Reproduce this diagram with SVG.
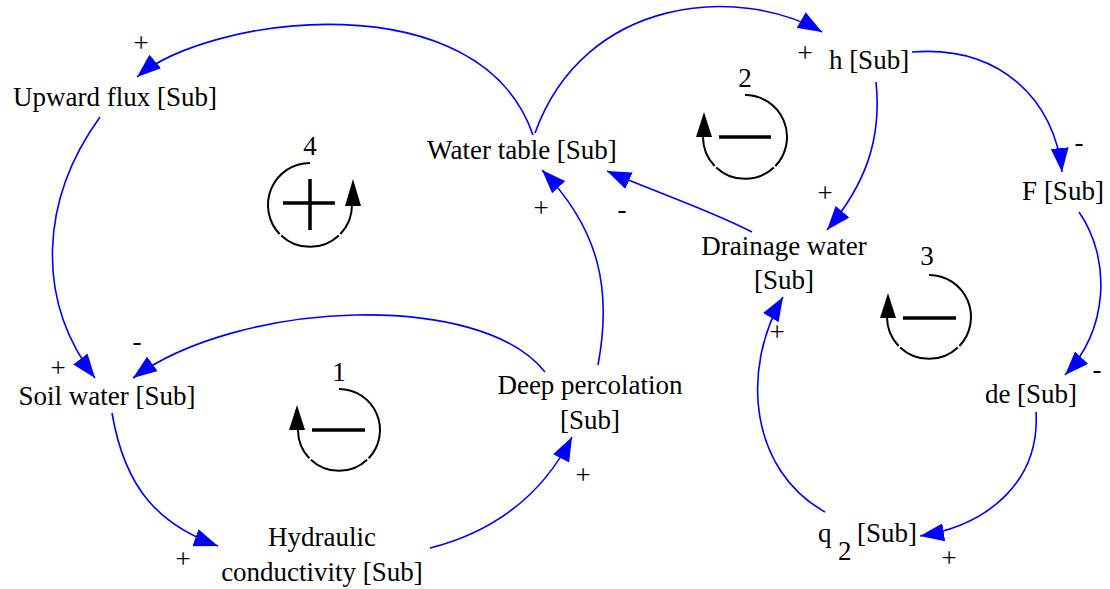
<svg xmlns="http://www.w3.org/2000/svg" width="1110" height="589" viewBox="0 0 1110 589">
<defs>
<marker id="ah" markerUnits="userSpaceOnUse" markerWidth="25" markerHeight="18" refX="24" refY="9" orient="auto">
<path d="M0,0 L24,9 L0,18 z" fill="#0000ff"/>
</marker>
</defs>
<style>
text{font-family:"Liberation Serif","Times New Roman",serif;font-size:27px;fill:#000}
.m{text-anchor:middle}
.c{fill:none;stroke:#0000ff;stroke-width:1.6;marker-end:url(#ah)}
.lp{fill:none;stroke:#000;stroke-width:2}
.sg{stroke:#000;stroke-width:3.5}
.la{fill:#000}
</style>
<rect width="1110" height="589" fill="#fff"/>
<g id="connectors">
<path class="c" d="M533,135 C480,-20 210,15 137,77"/>
<path class="c" d="M535,133 C585,-5 740,-15 822,32"/>
<path class="c" d="M100,117 C40,200 35,300 95,378"/>
<path class="c" d="M545,372 C480,290 240,300 133,378"/>
<path class="c" d="M112,413 C125,490 160,525 218,546"/>
<path class="c" d="M430,548 C500,530 545,490 572,437"/>
<path class="c" d="M598,365 C612,290 600,230 542,170"/>
<path class="c" d="M752,232 C710,210 650,190 607,171"/>
<path class="c" d="M876,82 C882,140 865,185 827,230"/>
<path class="c" d="M912,52 C1000,45 1055,100 1062,172"/>
<path class="c" d="M1079,212 C1112,260 1108,330 1065,375"/>
<path class="c" d="M1036,412 C1040,480 990,525 920,536"/>
<path class="c" d="M825,512 C750,470 740,370 783,297"/>
</g>
<g id="polarities">
<text class="m" x="141" y="52">+</text>
<text class="m" x="805" y="62">+</text>
<text class="m" x="1079" y="151">-</text>
<text class="m" x="825" y="202">+</text>
<text class="m" x="541" y="217">+</text>
<text class="m" x="622" y="218">-</text>
<text class="m" x="58" y="377">+</text>
<text class="m" x="137" y="350">-</text>
<text class="m" x="777" y="341">+</text>
<text class="m" x="1097" y="378">-</text>
<text class="m" x="583" y="484">+</text>
<text class="m" x="183" y="568">+</text>
<text class="m" x="949" y="567">+</text>
</g>
<g id="upward_flux"><text class="m" x="115" y="106">Upward flux [Sub]</text></g>
<g id="water_table"><text class="m" x="522" y="159">Water table [Sub]</text></g>
<g id="h"><text class="m" x="869" y="69">h [Sub]</text></g>
<g id="F"><text class="m" x="1063" y="200">F [Sub]</text></g>
<g id="drainage_water"><text class="m" x="784" y="255">Drainage water</text><text class="m" x="784" y="289">[Sub]</text></g>
<g id="soil_water"><text class="m" x="107" y="405">Soil water [Sub]</text></g>
<g id="deep_percolation"><text class="m" x="590" y="394">Deep percolation</text><text class="m" x="590" y="429">[Sub]</text></g>
<g id="hydraulic_conductivity"><text class="m" x="322" y="546">Hydraulic</text><text class="m" x="322" y="581">conductivity [Sub]</text></g>
<g id="de"><text class="m" x="1031" y="403">de [Sub]</text></g>
<g id="q2"><text x="818" y="542">q</text><text x="838" y="560">2</text><text x="857" y="542">[Sub]</text></g>
<g id="loop4">
<text class="m" x="310" y="155">4</text>
<path class="lp" d="M310,163 A42,42 0 0 0 279.6,234 M281.2,235.4 A42,42 0 0 0 338.8,235.4 M340.4,234 A42,42 0 0 0 352,205"/>
<path class="la" d="M353,179 L361,206 L345,206 z"/>
<path class="sg" d="M283,203 H335 M310,179 V230"/>
</g>
<g id="loop2">
<text class="m" x="745" y="87">2</text>
<path class="lp" d="M745,95 A42,42 0 0 1 775.4,166 M773.8,167.4 A42,42 0 0 1 716.2,167.4 M714.6,166 A42,42 0 0 1 703,137"/>
<path class="la" d="M704,112 L712,137 L696,137 z"/>
<path class="sg" d="M719,137 H771"/>
</g>
<g id="loop3">
<text class="m" x="927" y="265">3</text>
<path class="lp" d="M929,275 A42,42 0 0 1 959.4,346 M957.8,347.4 A42,42 0 0 1 900.2,347.4 M898.6,346 A42,42 0 0 1 887,317"/>
<path class="la" d="M888,293 L896,318 L880,318 z"/>
<path class="sg" d="M903,318 H956"/>
</g>
<g id="loop1">
<text class="m" x="339" y="381">1</text>
<path class="lp" d="M339,389 A41,41 0 0 1 368.7,458.3 M367.1,459.7 A41,41 0 0 1 310.9,459.7 M309.3,458.3 A41,41 0 0 1 298,430"/>
<path class="la" d="M297,405 L305,430 L289,430 z"/>
<path class="sg" d="M312,430 H365"/>
</g>
</svg>
